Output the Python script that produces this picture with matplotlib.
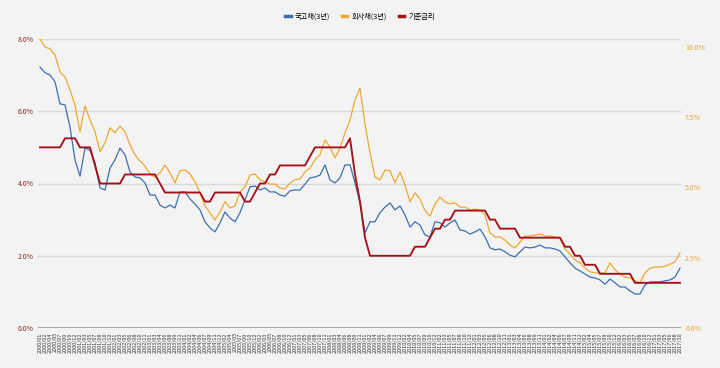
import matplotlib.pyplot as plt
from matplotlib.lines import Line2D
import numpy as np
import pandas as pd

plt.rcParams['font.family'] = ['Noto Sans CJK KR', 'DejaVu Sans']

# ── Données ───────────────────────────────────────────────────────────────────
series_names = ["국고채(3년)", "회사채(3년)", "기준금리"]

# 국고채 3년 (axe de droite, %)
kor_3y = [
    9.28, 9.08, 9.00, 8.76, 7.97, 7.94, 7.15, 5.98, 5.40, 6.40,
    6.33, 5.88, 4.98, 4.91, 5.69, 5.98, 6.40, 6.16, 5.55, 5.37,
    5.34, 5.16, 4.73, 4.73, 4.37, 4.27, 4.37, 4.27, 4.84, 4.84,
    4.59, 4.41, 4.20, 3.78, 3.56, 3.42, 3.74, 4.13, 3.91, 3.78,
    4.10, 4.56, 5.02, 5.05, 4.91, 4.98, 4.84, 4.84, 4.73, 4.69,
    4.88, 4.91, 4.91, 5.12, 5.34, 5.37, 5.44, 5.80, 5.27, 5.16,
    5.34, 5.80, 5.80, 5.16, 4.45, 3.38, 3.78, 3.78, 4.10, 4.30,
    4.45, 4.20, 4.34, 4.02, 3.59, 3.78, 3.66, 3.31, 3.24, 3.78,
    3.74, 3.59, 3.74, 3.84, 3.49, 3.45, 3.34, 3.42, 3.52, 3.24,
    2.85, 2.78, 2.81, 2.71, 2.59, 2.53, 2.71, 2.88, 2.85, 2.88,
    2.95, 2.85, 2.85, 2.81, 2.74, 2.53, 2.32, 2.13, 2.03, 1.92,
    1.81, 1.78, 1.71, 1.56, 1.74, 1.61, 1.46, 1.46, 1.32, 1.21,
    1.21, 1.53, 1.64, 1.64, 1.64, 1.68, 1.71, 1.81, 2.13,
]

# 회사채 3년 (axe de droite, %)
corp_3y = [
    10.28, 10.00, 9.93, 9.71, 9.11, 8.93, 8.47, 7.93, 6.98, 7.90,
    7.40, 6.98, 6.27, 6.59, 7.12, 6.94, 7.18, 6.98, 6.51, 6.16,
    5.94, 5.76, 5.48, 5.37, 5.52, 5.80, 5.52, 5.16, 5.59, 5.62,
    5.48, 5.20, 4.81, 4.34, 4.10, 3.84, 4.13, 4.49, 4.27, 4.34,
    4.84, 5.02, 5.44, 5.48, 5.27, 5.20, 5.12, 5.12, 4.98, 4.95,
    5.16, 5.27, 5.30, 5.55, 5.69, 5.98, 6.16, 6.69, 6.44, 6.05,
    6.40, 6.94, 7.40, 8.11, 8.54, 7.25, 6.23, 5.37, 5.27, 5.62,
    5.59, 5.16, 5.55, 5.08, 4.49, 4.81, 4.59, 4.17, 3.98, 4.41,
    4.66, 4.49, 4.41, 4.45, 4.30, 4.30, 4.20, 4.23, 4.20, 4.02,
    3.38, 3.24, 3.24, 3.13, 2.95, 2.85, 3.06, 3.27, 3.27, 3.31,
    3.34, 3.27, 3.27, 3.24, 3.20, 2.81, 2.63, 2.42, 2.32, 2.13,
    2.00, 1.96, 1.96, 1.96, 2.32, 2.07, 1.92, 1.81, 1.78, 1.68,
    1.61, 1.96, 2.13, 2.17, 2.17, 2.20, 2.27, 2.35, 2.67,
]

# 기준금리 (axe de gauche, %)
base_rate = [
    5.00, 5.00, 5.00, 5.00, 5.00, 5.25, 5.25, 5.25, 5.00, 5.00,
    5.00, 4.50, 4.00, 4.00, 4.00, 4.00, 4.00, 4.25, 4.25, 4.25,
    4.25, 4.25, 4.25, 4.25, 4.00, 3.75, 3.75, 3.75, 3.75, 3.75,
    3.75, 3.75, 3.75, 3.50, 3.50, 3.75, 3.75, 3.75, 3.75, 3.75,
    3.75, 3.50, 3.50, 3.75, 4.00, 4.00, 4.25, 4.25, 4.50, 4.50,
    4.50, 4.50, 4.50, 4.50, 4.75, 5.00, 5.00, 5.00, 5.00, 5.00,
    5.00, 5.00, 5.25, 4.25, 3.50, 2.50, 2.00, 2.00, 2.00, 2.00,
    2.00, 2.00, 2.00, 2.00, 2.00, 2.25, 2.25, 2.25, 2.50, 2.75,
    2.75, 3.00, 3.00, 3.25, 3.25, 3.25, 3.25, 3.25, 3.25, 3.25,
    3.00, 3.00, 2.75, 2.75, 2.75, 2.75, 2.50, 2.50, 2.50, 2.50,
    2.50, 2.50, 2.50, 2.50, 2.50, 2.25, 2.25, 2.00, 2.00, 1.75,
    1.75, 1.75, 1.50, 1.50, 1.50, 1.50, 1.50, 1.50, 1.50, 1.25,
    1.25, 1.25, 1.25, 1.25, 1.25, 1.25, 1.25, 1.25, 1.25,
]

dates = pd.date_range("2000-01-01", "2017-10-01", periods=len(kor_3y))
x_labels = [f"{d.year}/{d.month:02d}" for d in dates]

left_ticks = [0, 2, 4, 6, 8]
right_ticks = [0, 2.5, 5, 7.5, 10]

# ── Style ─────────────────────────────────────────────────────────────────────
bg = "#f3f3f3"
c_blue = "#3d6fb0"
c_orange = "#eea731"
c_red = "#a3111a"

fig = plt.figure(figsize=(7.2, 3.68), dpi=100, facecolor=bg)
ax = fig.add_axes([38 / 720, 1 - 328 / 368, (681 - 38) / 720, (328 - 39) / 368])
ax2 = ax.twinx()

x = np.arange(len(kor_3y))

# axe de gauche au-dessus (기준금리), axe de droite dessous (국고채 / 회사채)
ax2.set_zorder(1)
ax.set_zorder(2)
ax.patch.set_visible(False)
ax2.patch.set_facecolor(bg)

ax.set_ylim(0, 8)
ax2.set_ylim(0, 10.28)

# grille sur l'axe de droite pour rester sous les courbes
for v in left_ticks[1:]:
    ax2.axhline(v * 10.28 / 8, color="#d9d9d9", lw=1.0, zorder=0)

ax2.plot(x, kor_3y, color=c_blue, lw=0.9, zorder=3)
ax2.plot(x, corp_3y, color=c_orange, lw=0.9, zorder=3)
ax.plot(x, base_rate, color=c_red, lw=1.35, zorder=4)
ax.axhline(0, color="#8c8c8c", lw=1.8, zorder=5)

ax.set_xlim(-0.4, len(kor_3y) - 1 + 0.2)

ax.set_yticks(left_ticks)
ax.set_yticklabels([f"{v:.1f}%" for v in left_ticks])
ax2.set_yticks(right_ticks)
ax2.set_yticklabels([f"{v:.1f}%" for v in right_ticks])
ax.tick_params(axis="y", length=0, pad=3, labelsize=5, labelcolor="#8e2222")
ax2.tick_params(axis="y", length=0, pad=3, labelsize=5, labelcolor="#e0a53a")

ax.set_xticks(x)
ax.set_xticklabels(x_labels, rotation=90, fontsize=4, color="#3a3a3a")
ax.tick_params(axis="x", length=0, pad=3)

for a in (ax, ax2):
    for s in a.spines.values():
        s.set_visible(False)

handles = [Line2D([], [], color=c, lw=2.5) for c in (c_blue, c_orange, c_red)]
fig.legend(handles, series_names, loc="center", bbox_to_anchor=(0.5, 1 - 17 / 368),
           ncol=3, frameon=False, fontsize=5.2, handlelength=0.8,
           handletextpad=0.6, columnspacing=1.6)

fig.savefig("out.png", dpi=100, facecolor=bg)
